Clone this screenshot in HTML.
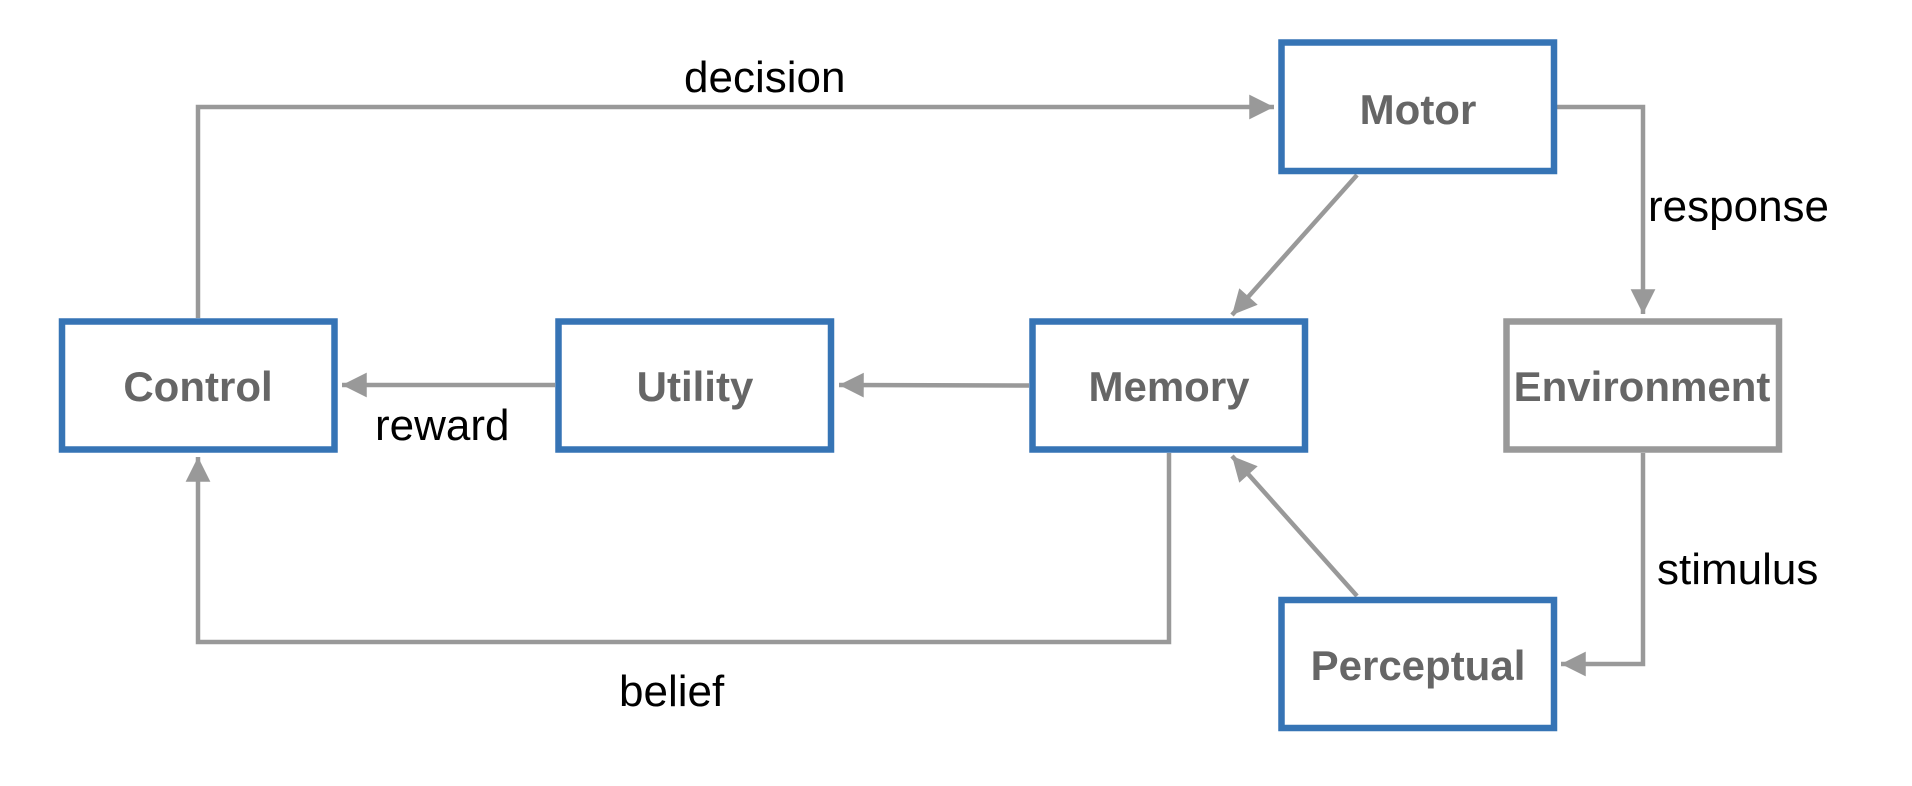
<!DOCTYPE html>
<html><head><style>
html,body{margin:0;padding:0;background:#fff;}
svg{display:block;}
</style></head><body>
<svg width="1912" height="786" viewBox="0 0 1912 786" xmlns="http://www.w3.org/2000/svg">
<defs>
<marker id="a" viewBox="0 0 10 10" refX="10" refY="5" markerWidth="6" markerHeight="5.5" markerUnits="strokeWidth" orient="auto">
<path d="M0,0 L10,5 L0,10 z" fill="#999"/>
</marker>
</defs>
<g fill="none" stroke="#999" stroke-width="4.5">
<polyline points="198,318 198,107 1274,107" marker-end="url(#a)"/>
<line x1="555" y1="385" x2="342" y2="385" marker-end="url(#a)"/>
<line x1="1029" y1="385.5" x2="839" y2="385" marker-end="url(#a)"/>
<polyline points="1169,453 1169,642 198,642 198,457" marker-end="url(#a)"/>
<polyline points="1557,107 1643,107 1643,314" marker-end="url(#a)"/>
<polyline points="1643,453 1643,664 1561,664" marker-end="url(#a)"/>
<line x1="1357" y1="175" x2="1232" y2="315" marker-end="url(#a)"/>
<line x1="1357" y1="596" x2="1232" y2="456" marker-end="url(#a)"/>
</g>
<g fill="#fff" stroke="#3674b5" stroke-width="6.5">
<rect x="62" y="321.5" width="272.5" height="128"/>
<rect x="558.5" y="321.5" width="272.5" height="128"/>
<rect x="1032.5" y="321.5" width="272.5" height="128"/>
<rect x="1281.5" y="42.5" width="272.5" height="128.5"/>
<rect x="1281.5" y="600" width="272.5" height="128"/>
</g>
<rect x="1506.5" y="321.5" width="272.5" height="128" fill="#fff" stroke="#999" stroke-width="6.5"/>
<g font-family="'Liberation Sans',sans-serif" font-weight="bold" font-size="42" fill="#666" text-anchor="middle">
<text x="198" y="401">Control</text>
<text x="695" y="401">Utility</text>
<text x="1169" y="401">Memory</text>
<text x="1418" y="124">Motor</text>
<text x="1642" y="401">Environment</text>
<text x="1418" y="680">Perceptual</text>
</g>
<g font-family="'Liberation Sans',sans-serif" font-size="44" fill="#000">
<text x="684" y="92">decision</text>
<text x="375" y="440">reward</text>
<text x="619" y="706">belief</text>
<text x="1648" y="221">response</text>
<text x="1657" y="584">stimulus</text>
</g>
</svg>
</body></html>
